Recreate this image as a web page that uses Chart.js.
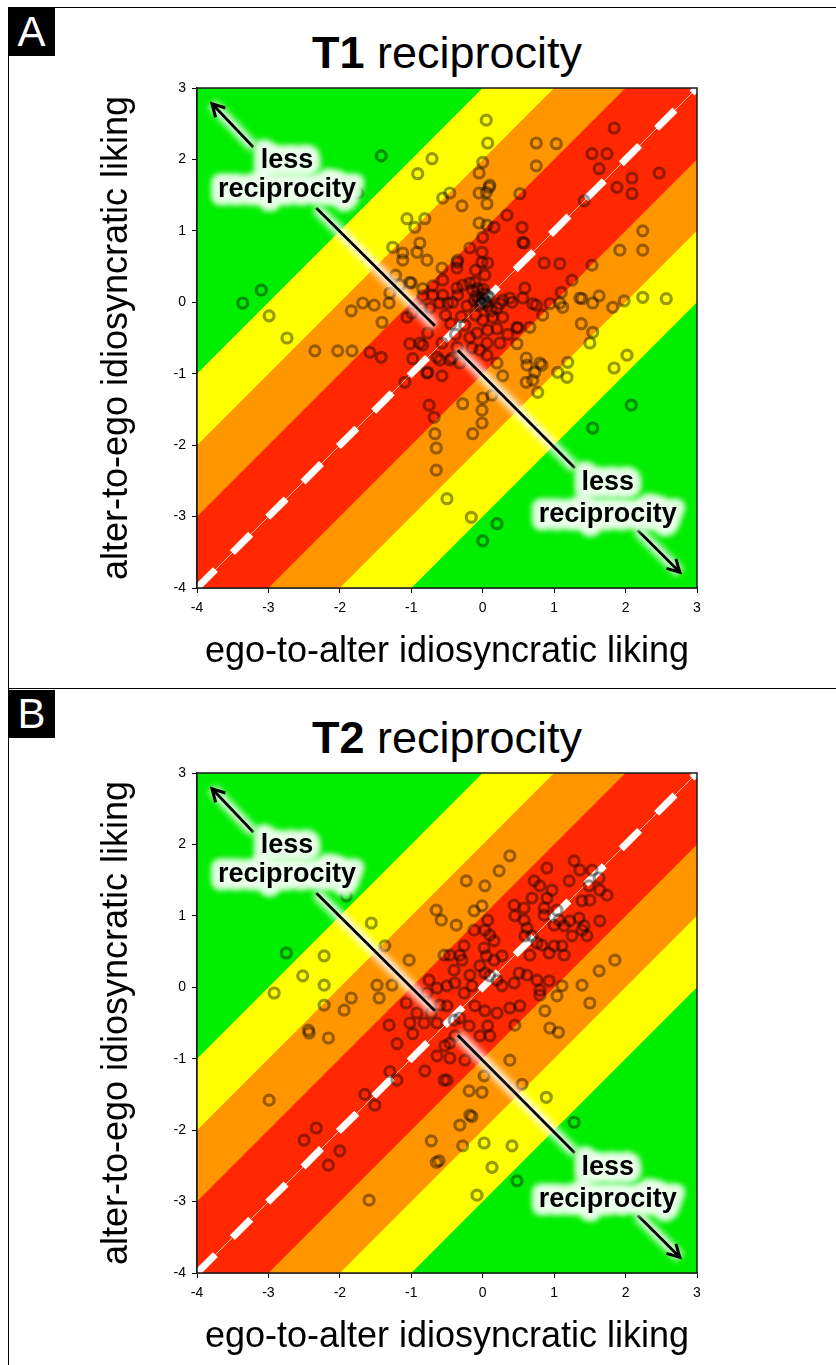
<!DOCTYPE html>
<html>
<head>
<meta charset="utf-8">
<script src="https://cdn.jsdelivr.net/npm/chart.js@4.4.0/dist/chart.umd.min.js"></script>
<style>
  body { margin: 0; background: #fff; font-family: "Liberation Sans", Arial, sans-serif; }
  #page { position: relative; width: 836px; height: 1365px; overflow: hidden; }
  .frame { position: absolute; left: 8px; width: 840px; border-top: 1px solid #000; border-left: 1px solid #000; }
  .tag { position: absolute; left: 8px; width: 47px; height: 48px; background: #000; color: #fff;
         font: 42px/48px "Liberation Sans Narrow", "Liberation Sans", sans-serif; text-align: center; }
  .ttl { position: absolute; left: 97px; width: 700px; text-align: center; font-size: 45px; line-height: 45px; color: #000; }
  canvas { position: absolute; left: 0; }
</style>
</head>
<body>
<div id="page">
  <div class="frame" style="top:7px;height:681px"></div>
  <div class="frame" style="top:688px;height:700px"></div>
  <div class="tag" style="top:8px">A</div>
  <div class="tag" style="top:690px">B</div>
  <div class="ttl" style="top:30px"><b>T1</b> reciprocity</div>
  <div class="ttl" style="top:715px"><b>T2</b> reciprocity</div>
  <canvas id="t1" width="836" height="680" style="top:0px"></canvas>
  <canvas id="t2" width="836" height="680" style="top:685px"></canvas>
</div>
<script>
// axis range and labels
const axisMin = -4;
const axisMax = 3;
const xTitle = "ego-to-alter idiosyncratic liking";
const yTitle = "alter-to-ego idiosyncratic liking";

// reciprocity bands: |alter - ego| below each edge
const bandEdges = [1, 2, 3];
const bandColors = ["#ff2800", "#ff9600", "#ffff00"];
const outerColor = "#00ee00";

// T1 dyads (ego-to-alter, alter-to-ego)
const t1X = [
  -3.36,-3.10,-2.99,-2.74,-1.42,-1.75,-0.71,-0.91,-0.56,-1.06,
  -0.95,-0.81,-1.26,-0.88,-1.12,-0.92,-0.78,-1.12,-0.57,-1.02,
  -1.30,-1.16,-1.68,-1.52,-1.84,-1.31,-1.41,-2.35,-2.03,-1.83,
  -1.58,-1.42,-1.09,-1.02,-0.98,-0.78,-0.57,-0.75,-0.68,-0.67,
  -0.65,-0.65,-0.28,-0.01,0.00,-0.01,-0.14,-0.50,-0.16,0.00,
  -0.64,-0.43,-0.36,-0.88,-0.77,1.38,1.54,1.50,2.02,1.84,
  2.08,1.54,1.19,1.05,1.18,0.83,0.73,0.70,0.61,0.77,
  0.61,0.48,0.28,0.13,0.20,0.05,0.07,0.00,-0.05,0.09,
  -0.05,0.05,-0.46,-0.29,0.06,0.52,0.75,1.03,0.75,1.84,
  1.53,1.74,1.63,2.09,2.47,1.88,2.09,1.42,0.34,0.55,
  0.58,-0.05,0.06,0.16,-0.18,-0.01,-0.01,0.07,-0.36,-0.36,
  -0.18,-0.07,0.03,-1.00,-0.84,0.86,1.08,1.53,1.25,2.24,
  1.92,2.24,1.10,1.39,1.63,1.54,1.82,1.98,2.24,2.57,
  1.12,0.56,0.75,0.84,0.41,0.49,0.24,0.20,0.10,0.00,
  0.56,-0.35,-0.10,-0.11,-0.14,-0.28,-0.56,-0.70,-0.36,-0.70,
  -0.56,-0.49,-0.35,-0.60,-0.74,-0.84,-0.85,-0.99,-1.06,-1.22,
  0.06,0.20,0.28,0.38,0.70,0.94,1.08,1.36,0.59,0.66,
  0.48,0.28,0.14,0.00,0.07,-0.08,-0.18,0.24,0.06,-0.04,
  0.06,-0.15,-0.57,-0.84,-0.60,-0.46,-0.32,-0.77,0.20,0.62,
  0.80,-0.06,0.00,0.05,-0.04,0.02,-0.09,0.09,-0.02,0.03,
  -0.12,0.01,0.07,-0.30,-0.22,-0.45,-0.25,-0.38,0.12,-0.10,
  0.35,-0.52,-0.42
];
const t1Y = [
  -0.01,0.17,-0.19,-0.50,2.05,1.53,2.01,1.80,1.46,1.17,
  1.05,1.17,0.77,0.83,0.69,0.70,0.59,0.59,0.48,0.28,
  0.13,0.24,-0.01,-0.04,-0.12,-0.01,-0.28,-0.68,-0.68,-0.68,
  -0.70,-0.77,-1.12,-0.58,-0.79,-0.99,-1.03,-1.44,-1.61,-1.84,
  -2.04,-2.35,-1.42,-1.51,-1.34,-1.69,-1.84,-2.75,-3.01,-3.34,
  -0.77,-0.78,-0.63,-0.57,-0.43,-0.30,-0.42,-0.57,-0.74,-0.92,
  -1.44,-1.76,-0.84,-0.98,-1.05,-0.88,-0.98,-1.09,-1.12,-1.26,
  -0.78,-0.58,-1.03,-1.30,-3.10,2.55,2.23,1.96,1.81,1.61,
  1.53,1.54,1.53,1.35,1.38,1.52,2.23,2.22,1.91,2.44,
  2.08,2.08,1.87,1.74,1.81,1.61,1.52,1.42,1.22,1.05,
  0.83,1.11,1.08,1.05,0.76,0.70,0.56,0.55,0.56,0.48,
  0.27,0.19,0.38,0.27,0.19,0.55,0.54,0.52,0.31,1.00,
  0.73,0.73,0.14,0.05,0.09,-0.01,-0.07,0.02,0.07,0.05,
  -0.07,0.06,-0.04,-0.18,0.00,-0.36,-0.02,-0.37,1.64,0.91,
  0.84,0.59,0.45,0.28,0.17,0.24,0.31,0.23,0.20,0.10,
  0.10,-0.01,0.10,-0.01,-0.08,0.09,-0.08,-0.15,-0.21,0.38,
  0.10,-0.08,0.03,0.06,-0.02,-0.02,-0.01,0.06,0.20,-0.35,
  -0.35,-0.21,-0.21,-0.25,-0.39,-0.43,-0.49,-0.57,-0.57,-0.67,
  -0.74,-0.64,-0.57,-0.60,-0.81,-0.81,-0.85,-0.98,-0.85,-0.88,
  -0.85,0.03,0.06,0.00,-0.04,0.12,0.09,0.07,-0.01,0.02,
  0.02,0.18,-0.05,-0.20,-0.05,-0.30,-0.32,-0.45,-0.12,-0.18,
  -0.45,-0.18,0.00
];

// T2 dyads
const t2X = [
  -1.91,-1.56,-0.65,-0.58,-2.75,-2.22,-2.52,-2.22,-2.92,-1.37,
  -1.03,-0.54,-1.48,-1.27,-1.45,-1.84,-2.22,-1.94,-1.07,-0.75,
  -0.78,-0.64,-0.92,
  0.38,0.23,-0.23,0.03,-0.01,-0.12,-0.37,0.07,0.03,0.16,
  0.10,-0.12,-0.26,-0.32,-0.46,-0.29,0.02,0.05,-0.04,-0.40,
  0.03,0.16,0.27,0.10,0.20,0.27,0.44,0.51,0.62,0.76,
  0.80,0.93,1.11,1.39,1.63,1.85,1.50,1.04,0.87,0.80,
  0.52,0.38,0.20,0.03,-0.11,-0.32,-0.50,-0.39,-0.26,
  0.44,0.58,0.45,0.58,0.62,0.59,0.69,0.90,0.72,0.80,
  0.97,0.90,0.86,0.86,1.04,1.07,1.14,1.00,0.69,0.76,
  0.83,1.00,1.11,1.14,0.93,0.66,1.25,1.39,1.46,1.35,
  1.22,1.28,1.36,1.53,1.63,1.21,1.49,1.64,1.74,1.50,
  1.39,1.64,1.42,-0.18,-0.15,-0.50,-0.40,
  -2.44,-2.43,-2.16,-2.99,-1.31,-0.98,-1.20,-0.64,-0.53,-0.81,
  -0.54,-1.30,-1.20,-1.65,-1.51,-2.33,-2.50,-2.00,-2.16,-1.59,
  -0.72,-0.61,-0.65,
  -0.39,-0.19,0.07,-0.04,0.10,-0.46,-0.46,-0.25,-0.50,0.02,
  0.38,0.55,0.45,0.94,1.06,0.89,-0.19,-0.01,-0.18,-0.15,
  -0.32,0.02,-0.28,0.41,1.28,0.13,0.48,-0.08,
  -0.64,-1.02,-0.82,-0.72,-0.60
];
const t2Y = [
  1.28,0.90,1.08,0.94,0.48,0.44,0.16,0.03,-0.08,0.58,
  0.38,0.45,0.03,0.03,-0.15,-0.15,-0.25,-0.32,-0.22,0.10,
  -0.08,-0.01,-0.36,
  1.84,1.63,1.49,1.42,1.14,1.07,0.87,0.94,0.80,0.65,
  0.73,0.80,0.58,0.45,0.45,0.38,0.55,0.44,0.30,0.24,
  0.20,0.38,0.44,0.16,0.10,0.02,0.06,0.20,0.17,0.10,
  -0.04,0.09,0.02,0.03,0.23,0.38,-0.22,-0.12,-0.33,-0.11,
  -0.26,-0.29,-0.36,-0.33,-0.26,-0.43,0.02,0.06,-0.08,
  1.15,1.11,1.00,0.94,0.83,0.72,1.25,1.67,1.49,1.42,
  1.36,1.25,1.11,1.01,1.08,0.94,0.86,0.87,0.72,0.62,
  0.59,0.58,0.58,0.45,0.48,0.45,0.72,0.80,0.72,0.97,
  0.93,1.77,1.64,1.64,1.53,1.49,1.42,1.36,1.29,1.22,
  1.21,0.93,0.86,0.17,0.02,-0.26,-0.46,
  -0.60,-0.64,-0.71,-1.58,-0.53,-0.65,-0.79,-0.96,-0.82,-1.17,
  -1.30,-1.18,-1.30,-1.50,-1.65,-1.97,-2.14,-2.29,-2.49,-2.98,
  -2.15,-2.43,-2.45,
  -0.68,-0.54,-0.54,-0.68,-0.68,-0.78,-0.99,-1.02,-1.30,-1.24,
  -1.02,-1.36,-0.53,-0.57,-0.63,-1.54,-1.45,-1.47,-1.79,-1.81,
  -1.93,-2.18,-2.22,-2.22,-1.89,-2.52,-2.71,-2.91,
  -0.50,-0.50,-0.50,-0.36,-0.25
];

const noteWords = ["less", "reciprocity"];

// where the "less reciprocity" notes sit, in data units
const notes = {
  arrowUp: [[-3.21, 2.17], [-3.79, 2.78]],
  textUp: { x: -2.74, y: [1.88, 1.47] },
  lineUp: [[-2.33, 1.32], [-0.67, -0.33]],
  lineDown: [[-0.35, -0.67], [1.29, -2.32]],
  textDown: { x: 1.75, y: [-2.63, -3.08] },
  arrowDown: [[2.17, -3.19], [2.76, -3.78]]
};

const font = '"Liberation Sans", Arial, sans-serif';

const bandsPlugin = {
  id: "bands",
  beforeDatasetsDraw(chart) {
    const { ctx, chartArea: a, scales: { x, y } } = chart;
    ctx.save();
    ctx.beginPath();
    ctx.rect(a.left, a.top, a.width, a.height);
    ctx.clip();
    ctx.fillStyle = outerColor;
    ctx.fillRect(a.left, a.top, a.width, a.height);
    for (let i = bandEdges.length - 1; i >= 0; i--) {
      const k = bandEdges[i];
      ctx.fillStyle = bandColors[i];
      ctx.beginPath();
      ctx.moveTo(x.getPixelForValue(-10), y.getPixelForValue(-10 - k));
      ctx.lineTo(x.getPixelForValue(-10), y.getPixelForValue(-10 + k));
      ctx.lineTo(x.getPixelForValue(10), y.getPixelForValue(10 + k));
      ctx.lineTo(x.getPixelForValue(10), y.getPixelForValue(10 - k));
      ctx.closePath();
      ctx.fill();
    }
    ctx.restore();
  },
  afterDraw(chart) {
    const { ctx, chartArea: a } = chart;
    ctx.save();
    ctx.strokeStyle = "#1a1a1a";
    ctx.lineWidth = 1.5;
    ctx.strokeRect(a.left, a.top, a.width, a.height);
    ctx.restore();
  }
};

function glow(ctx, fn) {
  ctx.save();
  ctx.filter = "blur(3px)";
  ctx.strokeStyle = "rgba(255,255,255,0.85)";
  ctx.lineCap = "butt";
  ctx.lineJoin = "round";
  fn();
  ctx.restore();
}

const notesPlugin = {
  id: "notes",
  afterDatasetsDraw(chart) {
    const { ctx, scales: { x, y } } = chart;
    const px = p => [x.getPixelForValue(p[0]), y.getPixelForValue(p[1])];

    const segment = (seg, head) => {
      const [x0, y0] = px(seg[0]);
      const [x1, y1] = px(seg[1]);
      glow(ctx, () => {
        ctx.lineWidth = 11;
        ctx.beginPath(); ctx.moveTo(x0, y0); ctx.lineTo(x1, y1); ctx.stroke();
      });
      ctx.save();
      ctx.strokeStyle = "#000";
      ctx.lineWidth = 2.8;
      ctx.lineCap = "butt";
      ctx.beginPath(); ctx.moveTo(x0, y0); ctx.lineTo(x1, y1); ctx.stroke();
      if (head) {
        const ang = Math.atan2(y1 - y0, x1 - x0);
        const len = 14;
        ctx.lineWidth = 3;
        ctx.lineJoin = "miter";
        ctx.beginPath();
        ctx.moveTo(x1 - len * Math.cos(ang - 0.5), y1 - len * Math.sin(ang - 0.5));
        ctx.lineTo(x1, y1);
        ctx.lineTo(x1 - len * Math.cos(ang + 0.5), y1 - len * Math.sin(ang + 0.5));
        ctx.stroke();
      }
      ctx.restore();
    };

    const label = t => {
      ctx.save();
      ctx.font = "bold 27px " + font;
      ctx.textAlign = "center";
      ctx.textBaseline = "alphabetic";
      const cx = x.getPixelForValue(t.x);
      noteWords.forEach((w, i) => {
        const cy = y.getPixelForValue(t.y[i]);
        glow(ctx, () => {
          ctx.font = "bold 27px " + font;
          ctx.textAlign = "center";
          ctx.strokeStyle = "rgba(235,255,235,0.9)";
          ctx.lineWidth = 14;
          ctx.strokeText(w, cx, cy);
          ctx.strokeText(w, cx, cy);
        });
      });
      ctx.fillStyle = "#000";
      noteWords.forEach((w, i) => ctx.fillText(w, cx, y.getPixelForValue(t.y[i])));
      ctx.restore();
    };

    segment(notes.arrowUp, true);
    segment(notes.lineUp, false);
    label(notes.textUp);
    segment(notes.lineDown, false);
    segment(notes.arrowDown, true);
    label(notes.textDown);
  }
};

const scaleBase = {
  type: "linear",
  min: axisMin,
  max: axisMax,
  ticks: { stepSize: 1, color: "#000", font: { family: font, size: 14 } },
  grid: { drawOnChartArea: false, tickLength: 5, color: "#000", lineWidth: 1 },
  border: { color: "#1a1a1a", width: 1.5 }
};

function makeChart(id, xs, ys) {
  const points = xs.map((v, i) => ({ x: v, y: ys[i] }));
  const diag = [{ x: axisMin, y: axisMin }, { x: axisMax, y: axisMax }];
  return new Chart(document.getElementById(id), {
    type: "scatter",
    data: {
      datasets: [
        { data: points, pointRadius: 5, pointBorderWidth: 3.2, borderColor: "rgba(0,0,0,0.4)",
          backgroundColor: "rgba(0,0,0,0)", order: 0 },
        { type: "line", data: diag, borderColor: "#fff", borderWidth: 7, borderDash: [26, 24],
          borderCapStyle: "butt", pointRadius: 0, order: 1 },
        { type: "line", data: diag, borderColor: "rgba(255,255,255,0.7)", borderWidth: 1,
          pointRadius: 0, order: 2 }
      ]
    },
    options: {
      responsive: false,
      animation: false,
      events: [],
      layout: { padding: { top: 88, right: 139, bottom: 0, left: 0 } },
      plugins: { legend: { display: false }, tooltip: { enabled: false } },
      scales: {
        x: {
          ...scaleBase,
          ticks: { ...scaleBase.ticks, padding: 7 },
          title: { display: true, text: xTitle, color: "#000", font: { family: font, size: 36 },
                   padding: { top: 0, bottom: 6 } },
          afterFit: s => { s.height = 92; }
        },
        y: {
          ...scaleBase,
          ticks: { ...scaleBase.ticks, padding: 6 },
          title: { display: true, text: yTitle, color: "#000", font: { family: font, size: 36 },
                   padding: { top: 95, bottom: 0 } },
          afterFit: s => { s.width = 197; }
        }
      }
    },
    plugins: [bandsPlugin, notesPlugin]
  });
}

makeChart("t1", t1X, t1Y);
makeChart("t2", t2X, t2Y);
</script>
</body>
</html>
